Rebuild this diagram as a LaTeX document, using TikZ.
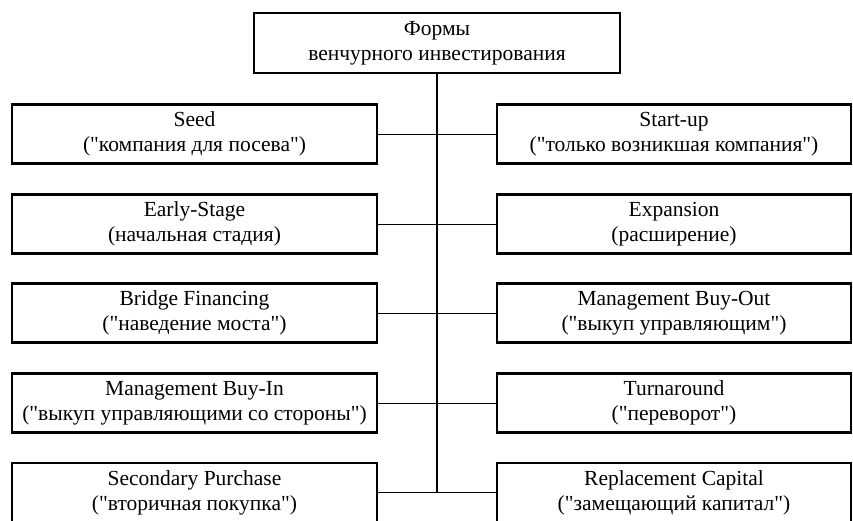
\documentclass[tikz,border=0pt]{standalone}
\usepackage{fontspec}
\setmainfont{Liberation Serif}[Ligatures=TeXOff]
\begin{document}
\begin{tikzpicture}[x=1pt,y=-1pt,
  box/.style={draw=black,line width=2.4pt,minimum width=365pt,minimum height=59pt,
    align=center,inner sep=0pt,font=\fontsize{21.5}{25}\selectfont},
  topbox/.style={box,minimum width=366pt,minimum height=60pt},
  link/.style={line width=1pt},
  trunk/.style={line width=2pt}]
\useasboundingbox (0,0) rectangle (853,520);
\node[topbox] (top) at (437,43) {Формы\\венчурного инвестирования};
\node[box] (l1) at (194.5,134) {Seed\\("компания для посева")};
\node[box,minimum width=354pt] (r1) at (674,134) {Start-up\\("только возникшая компания")};
\node[box] (l2) at (194.5,224) {Early-Stage\\(начальная стадия)};
\node[box,minimum width=354pt] (r2) at (674,224) {Expansion\\(расширение)};
\node[box] (l3) at (194.5,313) {Bridge Financing\\("наведение моста")};
\node[box,minimum width=354pt] (r3) at (674,313) {Management Buy-Out\\("выкуп управляющим")};
\node[box] (l4) at (194.5,403) {Management Buy-In\\("выкуп управляющими со стороны")};
\node[box,minimum width=354pt] (r4) at (674,403) {Turnaround\\("переворот")};
\node[box] (l5) at (194.5,492.5) {Secondary Purchase\\("вторичная покупка")};
\node[box,minimum width=354pt] (r5) at (674,492.5) {Replacement Capital\\("замещающий капитал")};
\coordinate (end) at (top.south |- l5.east);
\draw[trunk] (top.south) -- (end);
\foreach \i in {1,...,5}{
  \draw[link] (l\i.east) -- (r\i.west);
}
\end{tikzpicture}
\end{document}
